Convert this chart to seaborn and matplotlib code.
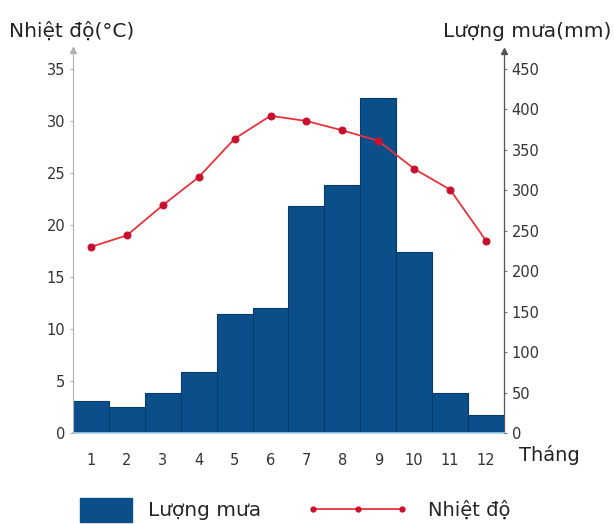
import matplotlib
matplotlib.use("Agg")
import matplotlib.pyplot as plt
import pandas as pd
import seaborn as sns
from matplotlib.patches import Patch
from matplotlib.lines import Line2D

months = [1, 2, 3, 4, 5, 6, 7, 8, 9, 10, 11, 12]
rain = [40, 32, 50, 76, 147, 154, 281, 306, 414, 224, 50, 22]
temp = [17.9, 19.0, 21.9, 24.6, 28.3, 30.5, 30.0, 29.1, 28.1, 25.4, 23.4, 18.5]

sns.set_style("white")
plt.rcParams["font.family"] = ["DejaVu Sans"]

df = pd.DataFrame({"month": months, "rain": rain, "temp": temp})

bar_color = "#0b4f8a"
line_color = "#e8323c"
dot_color = "#c8102e"

fig = plt.figure(figsize=(6.14, 5.24), dpi=100)
ax = fig.add_axes([0.1189, 0.1737, 0.7019, 0.6946])
ax2 = ax.twinx()

# rain bars on the right axis
sns.barplot(data=df, x="month", y="rain", native_scale=True, width=1.0,
            color=bar_color, edgecolor="#083a66", linewidth=0.8, saturation=1,
            ax=ax2)
# temperature line on the left axis
sns.lineplot(data=df, x="month", y="temp", color=line_color, linewidth=1.3,
             marker="o", markersize=5, markerfacecolor=dot_color,
             markeredgecolor=dot_color, ax=ax)

ax.set_zorder(ax2.get_zorder() + 1)
ax.patch.set_visible(False)

ax.set_xlim(0.5, 12.5)
ax.set_ylim(0, 35)
ax2.set_ylim(0, 450)
ax.set_yticks(range(0, 36, 5))
ax2.set_yticks(range(0, 451, 50))
ax.set_xticks(months)
ax.set_xticklabels([str(m) for m in months])
ax.set_xlabel("")
ax.set_ylabel("")
ax2.set_xlabel("")
ax2.set_ylabel("")

for a in (ax, ax2):
    for s in a.spines.values():
        s.set_visible(False)
ax.spines["left"].set_visible(True)
ax.spines["left"].set_color("#b0b0b0")
ax.spines["left"].set_linewidth(0.8)
ax.spines["left"].set_bounds(0, 36.5)
ax2.spines["right"].set_visible(True)
ax2.spines["right"].set_color("#555555")
ax2.spines["right"].set_linewidth(0.9)
ax2.spines["right"].set_bounds(0, 467)
ax2.spines["bottom"].set_visible(True)
ax2.spines["bottom"].set_color("#9fd0f0")
ax2.spines["bottom"].set_linewidth(1.2)

# arrow heads on the vertical axes
ax.plot(0.5, 36.8, marker="^", color="#b0b0b0", ms=4, clip_on=False)
ax2.plot(12.5, 472, marker="^", color="#555555", ms=4, clip_on=False)

ax.tick_params(axis="y", left=True, direction="out", length=2.5, width=0.8,
               color="#b0b0b0", labelsize=10.5, labelcolor="#333333", pad=3)
ax2.tick_params(axis="y", right=True, direction="out", length=2.5, width=0.8,
                color="#777777", labelsize=10.5, labelcolor="#333333", pad=3)
ax.tick_params(axis="x", bottom=False, labelsize=10.5, labelcolor="#333333", pad=11)

fig.text(0.015, 0.93, "Nhiệt độ(°C)", fontsize=14.5, color="#222222")
fig.text(0.995, 0.93, "Lượng mưa(mm)", fontsize=14.5, color="#222222", ha="right")
fig.text(0.845, 0.12, "Tháng", fontsize=14, color="#222222")

rain_handle = Patch(facecolor=bar_color, edgecolor=bar_color)
temp_handle = Line2D([0], [0], color=line_color, linewidth=1.3, marker="o",
                     markersize=3.5, markerfacecolor=dot_color,
                     markeredgecolor=dot_color)
leg1 = fig.legend([rain_handle], ["Lượng mưa"], loc="center left",
                  bbox_to_anchor=(0.13, 0.027), frameon=False, fontsize=14.5,
                  handlelength=2.6, handleheight=1.5, borderpad=0,
                  borderaxespad=0, handletextpad=0.8)
leg2 = fig.legend([temp_handle], ["Nhiệt độ"], loc="center left",
                  bbox_to_anchor=(0.5, 0.027), frameon=False, fontsize=14,
                  handlelength=5.2, numpoints=3, borderpad=0,
                  borderaxespad=0, handletextpad=1.0)

fig.savefig("out.png", dpi=100)
